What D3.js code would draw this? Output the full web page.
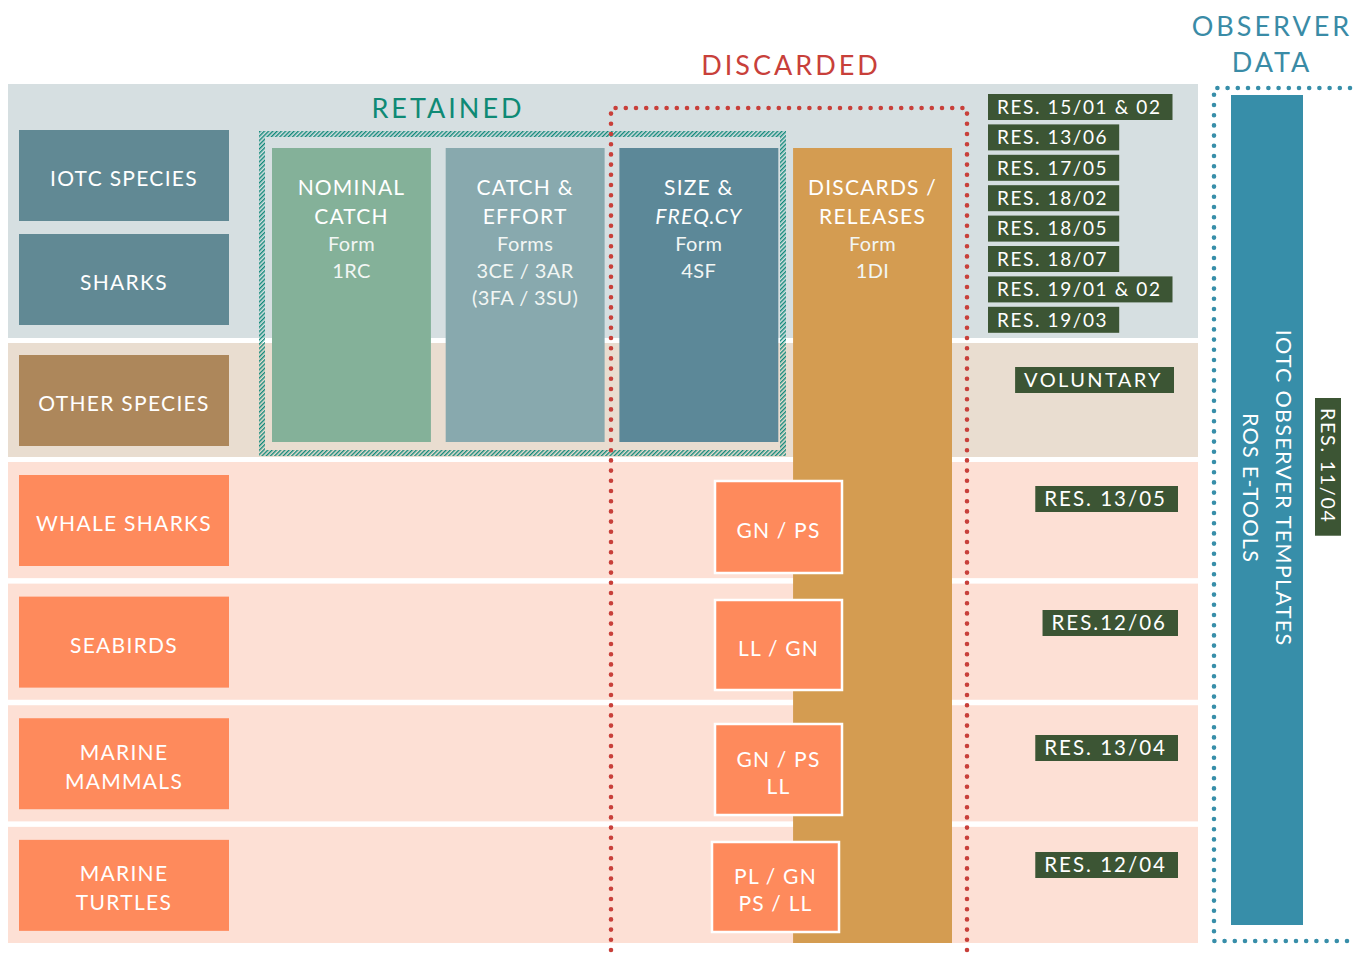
<!DOCTYPE html>
<html>
<head>
<meta charset="utf-8">
<script src="https://cdn.jsdelivr.net/npm/d3@7"></script>
<style>
  body { margin: 0; background: #fff; }
  text { font-family: Lato, "Open Sans", sans-serif; }
</style>
</head>
<body>
<div id="vis"></div>
<script>
const width = 1354;
const height = 955;

// rows of the matrix
const targetSpecies = ["IOTC SPECIES", "SHARKS"];
const otherSpecies = ["OTHER SPECIES"];
const bycatchSpecies = [["WHALE SHARKS"], ["SEABIRDS"], ["MARINE", "MAMMALS"], ["MARINE", "TURTLES"]];

// data forms (columns)
const formTitles = [["NOMINAL", "CATCH"], ["CATCH &", "EFFORT"], ["SIZE &", "FREQ.CY"], ["DISCARDS /", "RELEASES"]];
const formSubs = [["Form", "1RC"], ["Forms", "3CE / 3AR", "(3FA / 3SU)"], ["Form", "4SF"], ["Form", "1DI"]];

// gears and resolutions
const bycatchGears = [["GN / PS"], ["LL / GN"], ["GN / PS", "LL"], ["PL / GN", "PS / LL"]];
const bycatchRes = ["RES. 13/05", "RES.12/06", "RES. 13/04", "RES. 12/04"];
const iotcRes = ["RES. 15/01 & 02", "RES. 13/06", "RES. 17/05", "RES. 18/02",
                 "RES. 18/05", "RES. 18/07", "RES. 19/01 & 02", "RES. 19/03"];
const otherRes = ["VOLUNTARY"];
const observerLines = ["IOTC OBSERVER TEMPLATES", "ROS E-TOOLS"];
const observerRes = ["RES. 11/04"];

const col = {
  grey: "#d6dfe1", beige: "#e9ddd0", pink: "#fde0d5",
  slate: "#618994", brown: "#ad875b", coral: "#fe8a5c",
  green: "#3c5534", teal: "#10897a", red: "#c8403a", blue: "#378ea9",
  forms: ["#84b199", "#88a9ae", "#5c8898", "#d49c51"]
};

const svg = d3.select("#vis").append("svg")
  .attr("width", width)
  .attr("height", height);

const defs = svg.append("defs");
defs.append("pattern")
  .attr("id", "hatch")
  .attr("patternUnits", "userSpaceOnUse")
  .attr("width", 3).attr("height", 3)
  .attr("patternTransform", "rotate(45)")
  .append("rect")
  .attr("width", 1.4).attr("height", 3)
  .attr("fill", col.teal);

// background bands
const bandX = 8, bandW = 1190;
svg.append("rect").attr("x", bandX).attr("y", 84).attr("width", bandW).attr("height", 254).attr("fill", col.grey);
svg.append("rect").attr("x", bandX).attr("y", 343).attr("width", bandW).attr("height", 114).attr("fill", col.beige);

const yRow = d3.scaleBand()
  .domain(d3.range(bycatchSpecies.length))
  .range([462, 943])
  .paddingInner(0.045);

svg.selectAll("rect.band")
  .data(bycatchSpecies)
  .join("rect")
  .attr("class", "band")
  .attr("x", bandX).attr("y", (d, i) => yRow(i))
  .attr("width", bandW).attr("height", yRow.bandwidth())
  .attr("fill", col.pink);

// helper for multi-line centred text
function lines(g, arr, cx, cy, lh, attrs) {
  const t = g.append("text")
    .attr("text-anchor", "middle")
    .attr("fill", "#fff");
  Object.entries(attrs || {}).forEach(([k, v]) => t.attr(k, v));
  arr.forEach((s, i) => {
    t.append("tspan")
      .attr("x", cx)
      .attr("y", cy + (i - (arr.length - 1) / 2) * lh)
      .attr("dy", "0.36em")
      .text(s);
  });
  return t;
}

// species boxes
const boxX = 19, boxW = 210, boxH = 91;
const topBoxes = [
  { label: [targetSpecies[0]], y: 130, fill: col.slate },
  { label: [targetSpecies[1]], y: 234, fill: col.slate },
  { label: [otherSpecies[0]], y: 355, fill: col.brown }
];
bycatchSpecies.forEach((d, i) => topBoxes.push({ label: d, y: yRow(i) + 13, fill: col.coral }));

const sp = svg.append("g");
topBoxes.forEach(b => {
  sp.append("rect").attr("x", boxX).attr("y", b.y).attr("width", boxW).attr("height", boxH).attr("fill", b.fill);
  lines(sp, b.label, boxX + boxW / 2, b.y + boxH / 2 + 3, 29,
    { "font-size": 21, "letter-spacing": 1.3 });
});

// form columns
const xCol = d3.scaleBand()
  .domain(d3.range(formTitles.length))
  .range([272, 952])
  .paddingInner(0.085);

const fm = svg.append("g");
formTitles.forEach((t, i) => {
  const x = xCol(i);
  const h = i === 3 ? 943 - 148 : 442 - 148;
  fm.append("rect").attr("x", x).attr("y", 148).attr("width", xCol.bandwidth()).attr("height", h).attr("fill", col.forms[i]);
});

// retained hatched frame
svg.append("rect")
  .attr("x", 262).attr("y", 134).attr("width", 521).attr("height", 319)
  .attr("fill", "none")
  .attr("stroke", "url(#hatch)")
  .attr("stroke-width", 6);

formTitles.forEach((t, i) => {
  const cx = xCol(i) + xCol.bandwidth() / 2;
  const g = svg.append("g");
  t.forEach((s, j) => {
    g.append("text").attr("x", cx).attr("y", 187 + j * 29).attr("dy", "0.36em")
      .attr("text-anchor", "middle").attr("fill", "#fff")
      .attr("font-size", 21).attr("letter-spacing", 1.2)
      .attr("font-style", s === "FREQ.CY" ? "italic" : null)
      .text(s);
  });
  formSubs[i].forEach((s, j) => {
    g.append("text").attr("x", cx).attr("y", 244 + j * 27).attr("dy", "0.36em")
      .attr("text-anchor", "middle").attr("fill", "#f2f6f4")
      .attr("font-size", 20).attr("letter-spacing", 0.4)
      .text(s);
  });
});

// gear boxes
const gearX = [715, 715, 715, 712];
const gearY = [481, 600, 724, 842];
const gearH = [92, 90, 91, 90];
bycatchGears.forEach((d, i) => {
  svg.append("rect").attr("x", gearX[i]).attr("y", gearY[i]).attr("width", 127).attr("height", gearH[i])
    .attr("fill", col.coral).attr("stroke", "#fff").attr("stroke-width", 2.5);
  lines(svg, d, gearX[i] + 63.5, gearY[i] + gearH[i] / 2 + 3, 27, { "font-size": 21, "letter-spacing": 1.2 });
});

// headings
svg.append("text").attr("x", 448).attr("y", 118).attr("text-anchor", "middle")
  .attr("fill", "#0f8a75").attr("font-size", 27).attr("letter-spacing", 3).text("RETAINED");
svg.append("text").attr("x", 791).attr("y", 75).attr("text-anchor", "middle")
  .attr("fill", col.red).attr("font-size", 27).attr("letter-spacing", 3).text("DISCARDED");
svg.append("text").attr("x", 1272).attr("y", 36).attr("text-anchor", "middle")
  .attr("fill", "#3a8ba6").attr("font-size", 27).attr("letter-spacing", 3).text("OBSERVER");
svg.append("text").attr("x", 1272).attr("y", 72).attr("text-anchor", "middle")
  .attr("fill", "#3a8ba6").attr("font-size", 27).attr("letter-spacing", 3).text("DATA");

// dotted frames
function dotted(pts, color) {
  svg.append("path")
    .attr("d", d3.line()(pts))
    .attr("fill", "none")
    .attr("stroke", color)
    .attr("stroke-width", 4.6)
    .attr("stroke-linecap", "round")
    .attr("stroke-dasharray", "0 10.2");
}
dotted([[611, 950], [611, 108], [967, 108], [967, 950]], col.red);
dotted([[1350, 88], [1214, 88], [1214, 941], [1350, 941]], col.blue);

// resolution labels
function resLabel(s, x, y, anchor, fs, ls) {
  const g = svg.append("g");
  const r = g.append("rect").attr("fill", col.green);
  const t = g.append("text").attr("fill", "#fff").attr("font-size", fs || 19)
    .attr("letter-spacing", ls || 1.6).attr("dy", "0.36em").text(s);
  const w = t.node().getComputedTextLength() + 20;
  const x0 = anchor === "end" ? x - w : x;
  t.attr("x", x0 + 9).attr("y", y + 13);
  r.attr("x", x0).attr("y", y).attr("width", w).attr("height", 26);
}
iotcRes.forEach((s, i) => resLabel(s, 988, 94 + i * 30.4, "start"));
resLabel(otherRes[0], 1174, 367, "end", 20, 2.4);
const resY = [486, 610, 735, 852];
bycatchRes.forEach((s, i) => resLabel(s, 1178, resY[i], "end", 20.5, 2));

// observer bar
svg.append("rect").attr("x", 1231).attr("y", 95).attr("width", 72).attr("height", 830).attr("fill", col.blue);
observerLines.forEach((s, i) => {
  svg.append("text")
    .attr("transform", `translate(${1284 - i * 33},${488}) rotate(90)`)
    .attr("text-anchor", "middle")
    .attr("fill", "#fff").attr("font-size", 21.5).attr("letter-spacing", 1.3)
    .attr("dy", "0.36em")
    .text(s);
});

// observer resolution, rotated
const og = svg.append("g").attr("transform", "translate(1328,398) rotate(90)");
const ot = og.append("text").attr("fill", "#fff").attr("font-size", 19.5).attr("letter-spacing", 1.8)
  .attr("dy", "0.36em").text(observerRes[0]);
const ow = ot.node().getComputedTextLength() + 22;
og.insert("rect", "text").attr("x", 0).attr("y", -13).attr("width", ow).attr("height", 26).attr("fill", col.green);
ot.attr("x", 10).attr("y", 0);
</script>
</body>
</html>
